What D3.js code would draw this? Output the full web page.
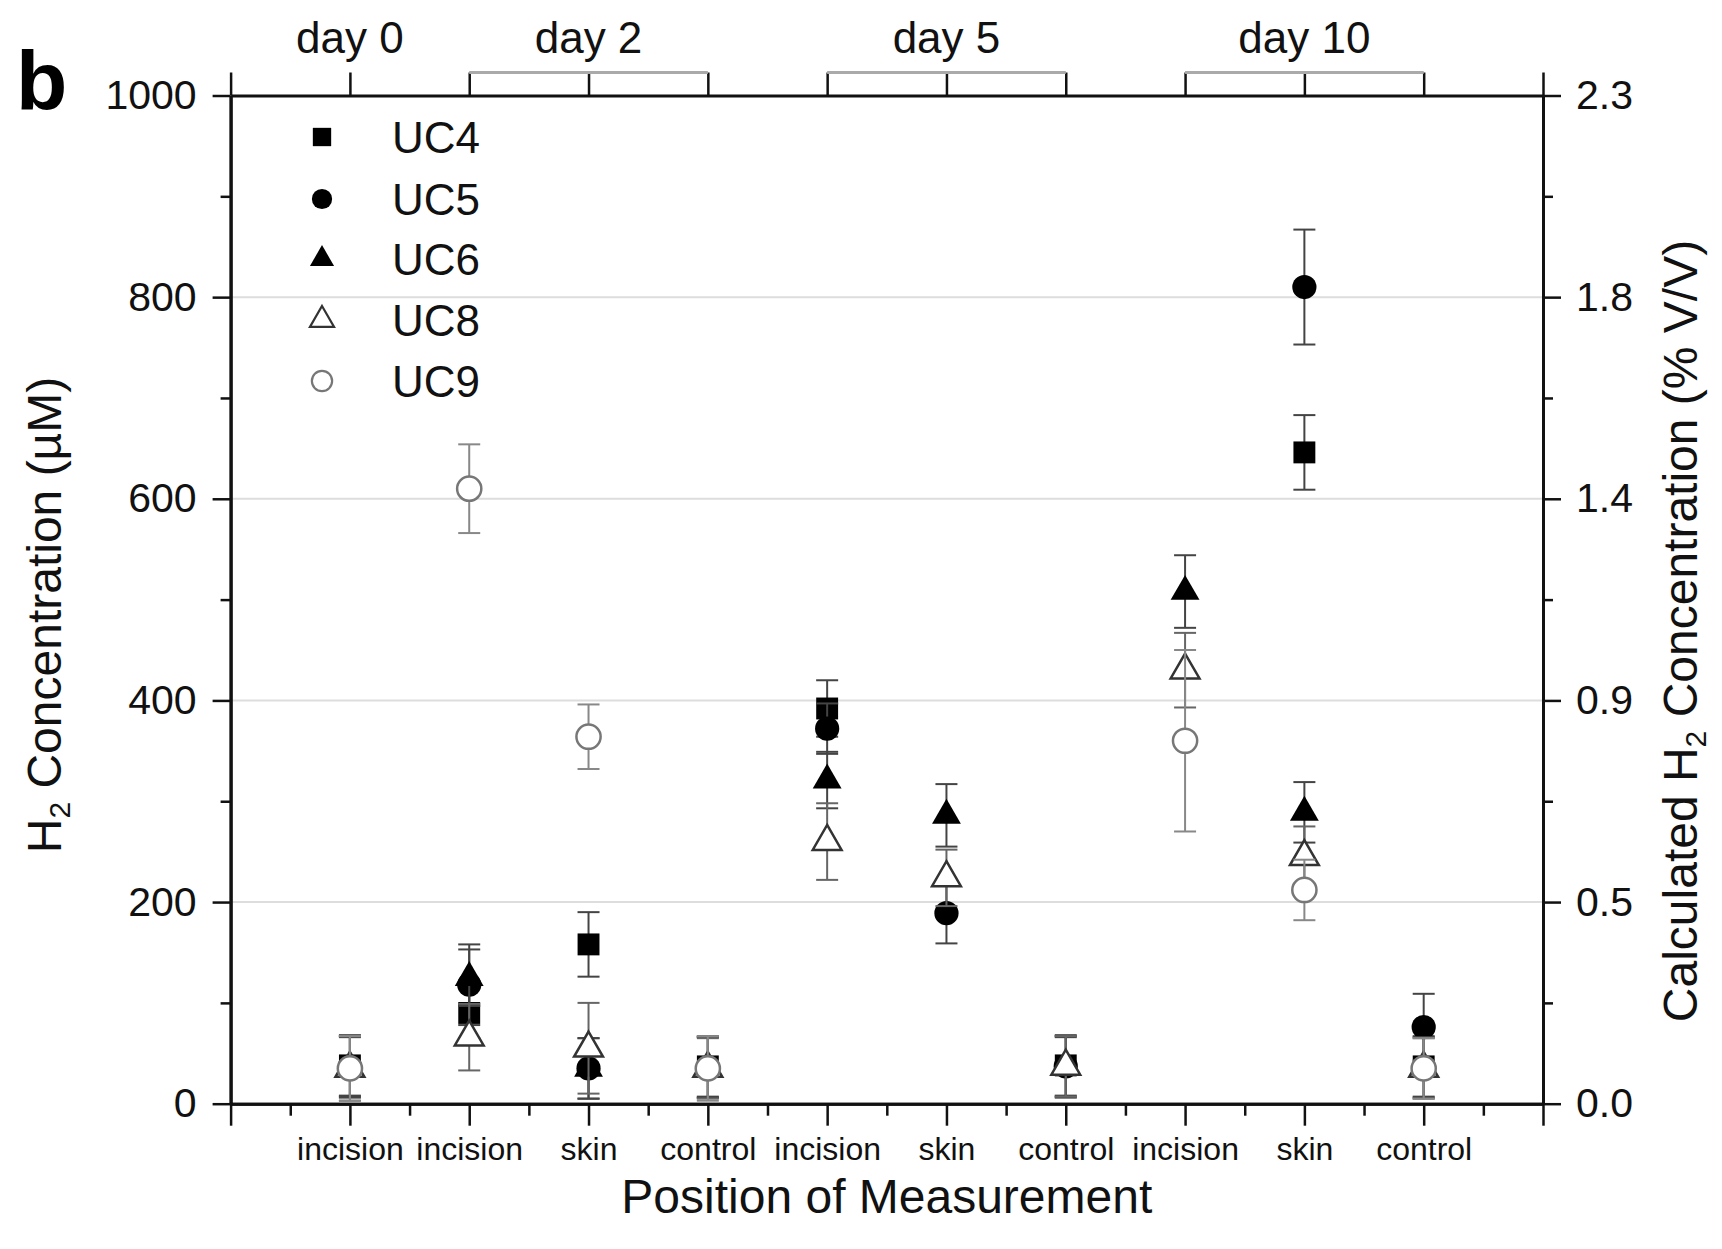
<!DOCTYPE html>
<html>
<head>
<meta charset="utf-8">
<script src="https://cdn.jsdelivr.net/npm/d3@7"></script>
<style>
  body { margin: 0; background: #fff; }
  svg { font-family: "Liberation Sans", Arial, sans-serif; }
</style>
</head>
<body>
<svg id="chart" width="1722" height="1249"></svg>
<script>
// categories along the x axis (positions 1..10)
const categories = ['incision', 'incision', 'skin', 'control', 'incision', 'skin', 'control', 'incision', 'skin', 'control'];
const dayLabels = ['day 0', 'day 2', 'day 5', 'day 10'];
const dayCenters = [1, 3, 6, 9];
const dayBrackets = [[2, 4], [5, 7], [8, 10]];

const leftTicks = [0, 200, 400, 600, 800, 1000];
const leftMinor = [100, 300, 500, 700, 900];
const rightLabels = ['0.0', '0.5', '0.9', '1.4', '1.8', '2.3'];

// H2 concentration (uM) and error, null = not measured
const uc4 = [38, 90, 158, 37, 392, null, 38, null, 646, 37];
const uc4Err = [30, 25, 32, 30, 28, null, 30, null, 37, 30];
const uc5 = [37, 118, 35, 36, 372, 189, 37, null, 810, 76];
const uc5Err = [30, 40, 30, 30, 25, 30, 30, null, 57, 33];
const uc6 = [36, 125, 35, 36, 321, 286, 36, 508, 289, 36];
const uc6Err = [30, 28, 30, 30, 28, 31, 30, 36, 30, 30];
const uc8 = [35, 66, 55, 35, 260, 224, 37, 430, 245, 35];
const uc8Err = [32, 33, 45, 30, 38, 28, 30, 37, 30, 30];
const uc9 = [35, 610, 364, 35, null, null, null, 360, 212, 35];
const uc9Err = [32, 44, 32, 32, null, null, null, 90, 30, 30];

const series = [
  { name: 'UC4', values: uc4, err: uc4Err, shape: d3.symbolSquare, size: 480, fill: '#000', stroke: 'none', bar: '#444' },
  { name: 'UC5', values: uc5, err: uc5Err, shape: d3.symbolCircle, size: 460, fill: '#000', stroke: 'none', bar: '#444' },
  { name: 'UC6', values: uc6, err: uc6Err, shape: d3.symbolTriangle, size: 360, fill: '#000', stroke: 'none', bar: '#444' },
  { name: 'UC8', values: uc8, err: uc8Err, shape: d3.symbolTriangle, size: 360, fill: '#fff', stroke: '#333', bar: '#666' },
  { name: 'UC9', values: uc9, err: uc9Err, shape: d3.symbolCircle, size: 460, fill: '#fff', stroke: '#777', bar: '#888' }
];

const svg = d3.select('#chart');
const margin = { top: 95.5, right: 179, bottom: 145.3, left: 230.6 };
const width = +svg.attr('width');
const height = +svg.attr('height');

const x = d3.scaleLinear().domain([0, 11]).range([margin.left, width - margin.right]);
const y = d3.scaleLinear().domain([0, 1000]).range([height - margin.bottom, margin.top]);

// grid
svg.append('g').selectAll('line')
  .data([200, 400, 600, 800])
  .join('line')
  .attr('x1', x(0)).attr('x2', x(11))
  .attr('y1', d => y(d)).attr('y2', d => y(d))
  .attr('stroke', '#ddd').attr('stroke-width', 2);

function styleAxis(g, fontSize) {
  g.select('.domain').attr('stroke', '#111').attr('stroke-width', 3);
  g.selectAll('.tick line').attr('stroke', '#111').attr('stroke-width', 2.5);
  g.selectAll('.tick text').attr('fill', '#111').style('font-size', fontSize + 'px');
  g.attr('font-family', null);
}

// bottom axis
const xAxisG = svg.append('g')
  .attr('transform', `translate(0,${y(0)})`)
  .call(d3.axisBottom(x).tickValues(d3.range(0, 12)).tickSize(22).tickSizeOuter(0).tickPadding(12)
    .tickFormat(i => categories[i - 1] || ''));
styleAxis(xAxisG, 32);
const xMinorG = svg.append('g')
  .attr('transform', `translate(0,${y(0)})`)
  .call(d3.axisBottom(x).tickValues(d3.range(0.5, 11, 1)).tickSize(12).tickSizeOuter(0).tickFormat(''));
styleAxis(xMinorG, 32);

// top axis
const topG = svg.append('g')
  .attr('transform', `translate(0,${y(1000)})`)
  .call(d3.axisTop(x).tickValues(d3.range(0, 12)).tickSize(23).tickSizeOuter(0).tickFormat(''));
styleAxis(topG, 32);

// left axis
const yAxisG = svg.append('g')
  .attr('transform', `translate(${x(0)},0)`)
  .call(d3.axisLeft(y).tickValues(leftTicks).tickSize(18).tickSizeOuter(0).tickPadding(16)
    .tickFormat(d => String(d)));
styleAxis(yAxisG, 41);
const yMinorG = svg.append('g')
  .attr('transform', `translate(${x(0)},0)`)
  .call(d3.axisLeft(y).tickValues(leftMinor).tickSize(10).tickSizeOuter(0).tickFormat(''));
styleAxis(yMinorG, 41);

// right axis
const yRightG = svg.append('g')
  .attr('transform', `translate(${x(11)},0)`)
  .call(d3.axisRight(y).tickValues(leftTicks).tickSize(18).tickSizeOuter(0).tickPadding(15)
    .tickFormat((d, i) => rightLabels[i]));
styleAxis(yRightG, 41);
const yRightMinorG = svg.append('g')
  .attr('transform', `translate(${x(11)},0)`)
  .call(d3.axisRight(y).tickValues(leftMinor).tickSize(10).tickSizeOuter(0).tickFormat(''));
styleAxis(yRightMinorG, 41);

// day brackets and labels
const bracketY = y(1000) - 23;
svg.append('g').selectAll('line')
  .data(dayBrackets)
  .join('line')
  .attr('x1', d => x(d[0])).attr('x2', d => x(d[1]))
  .attr('y1', bracketY).attr('y2', bracketY)
  .attr('stroke', '#aaa').attr('stroke-width', 3);

svg.append('g').selectAll('text')
  .data(dayLabels)
  .join('text')
  .attr('x', (d, i) => x(dayCenters[i]))
  .attr('y', 53)
  .attr('text-anchor', 'middle')
  .attr('fill', '#111')
  .style('font-size', '44px')
  .text(d => d);

// data points with error bars
const capHalf = 11;
series.forEach(s => {
  const pts = s.values.map((v, i) => ({ pos: i + 1, v: v, e: s.err[i] })).filter(d => d.v !== null);
  const g = svg.append('g');
  const bars = g.selectAll('g.err').data(pts).join('g').attr('class', 'err')
    .attr('stroke', s.bar).attr('stroke-width', 2);
  bars.append('line')
    .attr('x1', d => x(d.pos)).attr('x2', d => x(d.pos))
    .attr('y1', d => y(d.v - d.e)).attr('y2', d => y(d.v + d.e));
  bars.append('line')
    .attr('x1', d => x(d.pos) - capHalf).attr('x2', d => x(d.pos) + capHalf)
    .attr('y1', d => y(d.v + d.e)).attr('y2', d => y(d.v + d.e));
  bars.append('line')
    .attr('x1', d => x(d.pos) - capHalf).attr('x2', d => x(d.pos) + capHalf)
    .attr('y1', d => y(d.v - d.e)).attr('y2', d => y(d.v - d.e));

  g.selectAll('path.pt').data(pts).join('path').attr('class', 'pt')
    .attr('transform', d => `translate(${x(d.pos)},${y(d.v)})`)
    .attr('d', d3.symbol().type(s.shape).size(s.size))
    .attr('fill', s.fill)
    .attr('stroke', s.stroke)
    .attr('stroke-width', 2.5);
});

// legend
const legendRows = [137, 199, 259, 320, 381];
const legend = svg.append('g');
series.forEach((s, i) => {
  legend.append('path')
    .attr('transform', `translate(322,${legendRows[i]})`)
    .attr('d', d3.symbol().type(s.shape).size(s.size * 0.7))
    .attr('fill', s.fill)
    .attr('stroke', s.stroke)
    .attr('stroke-width', 2.2);
  legend.append('text')
    .attr('x', 392)
    .attr('y', legendRows[i])
    .attr('dy', '0.36em')
    .attr('fill', '#111')
    .style('font-size', '44px')
    .text(s.name);
});

// axis titles
svg.append('text')
  .attr('x', (x(0) + x(11)) / 2)
  .attr('y', 1213)
  .attr('text-anchor', 'middle')
  .attr('fill', '#111')
  .style('font-size', '48px')
  .text('Position of Measurement');

const leftTitle = svg.append('text')
  .attr('transform', 'translate(44,615) rotate(-90)')
  .attr('dy', '0.36em')
  .attr('text-anchor', 'middle')
  .attr('fill', '#111')
  .style('font-size', '48px');
leftTitle.append('tspan').text('H');
leftTitle.append('tspan').attr('dy', '0.3em').style('font-size', '30px').text('2');
leftTitle.append('tspan').attr('dy', '-0.2em').text(' Concentration (\u00B5M)');

const rightTitle = svg.append('text')
  .attr('transform', 'translate(1680,631) rotate(-90)')
  .attr('dy', '0.36em')
  .attr('text-anchor', 'middle')
  .attr('fill', '#111')
  .style('font-size', '48px');
rightTitle.append('tspan').text('Calculated H');
rightTitle.append('tspan').attr('dy', '0.3em').style('font-size', '30px').text('2');
rightTitle.append('tspan').attr('dy', '-0.2em').text(' Concentration (% V/V)');

// panel letter
svg.append('text')
  .attr('x', 16)
  .attr('y', 110)
  .attr('fill', '#000')
  .style('font-size', '84px')
  .style('font-weight', 'bold')
  .text('b');
</script>
</body>
</html>
